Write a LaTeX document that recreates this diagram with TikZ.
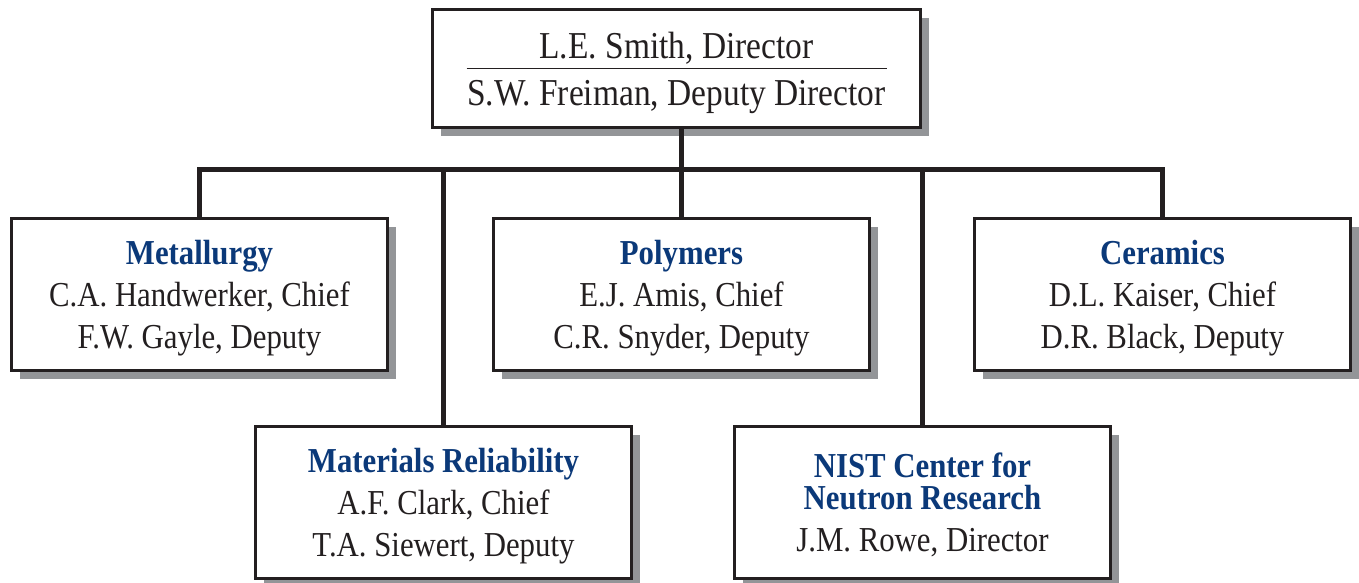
\documentclass[tikz,border=0pt]{standalone}
\usepackage{fontspec}
\setmainfont{Liberation Serif}[FakeStretch=0.88]
\usepackage{xcolor}
\usepackage{tikz}
\usetikzlibrary{shadows}

\definecolor{divblue}{HTML}{0B3979}
\definecolor{shadowgray}{HTML}{939598}
\definecolor{inkblack}{HTML}{231F20}

\tikzset{
  unitbox/.style={draw=inkblack, line width=2.5pt, fill=white, text=inkblack,
    minimum width=376pt, minimum height=152pt, inner sep=0pt, align=center,
    text depth=0pt, font=\fontsize{35}{42}\selectfont,
    drop shadow={shadow xshift=8pt, shadow yshift=-8pt, fill=shadowgray, opacity=1}},
  link/.style={draw=inkblack, line width=5pt},
}
\newcommand{\divname}[1]{\textcolor{divblue}{\textbf{#1}}}

\begin{document}
\begin{tikzpicture}[x=1pt, y=-1pt]
\useasboundingbox (0,0) rectangle (1359,582);

% Office of the director
\node[unitbox, minimum width=488pt, minimum height=118pt,
  font=\fontsize{38}{47}\selectfont] (dir) at (676.5,68.5) {L.E. Smith, Director\\S.W. Freiman, Deputy Director};
\draw[inkblack, line width=1pt] ([xshift=-210pt]dir.center) -- ([xshift=210pt]dir.center);

% Upper row of divisions
\node[unitbox] (met) at (199.5,294.5) {\divname{Metallurgy}\\C.A. Handwerker, Chief\\F.W. Gayle, Deputy};
\node[unitbox] (poly) at (681.5,294.5) {\divname{Polymers}\\E.J. Amis, Chief\\C.R. Snyder, Deputy};
\node[unitbox] (cer) at (1162.5,294.5) {\divname{Ceramics}\\D.L. Kaiser, Chief\\D.R. Black, Deputy};

% Lower row
\node[unitbox] (rel) at (443.5,502.5) {\divname{Materials Reliability}\\A.F. Clark, Chief\\T.A. Siewert, Deputy};
\node[unitbox] (ncnr) at (922.5,502.5) {\divname{NIST Center for}\\[-10pt]\divname{Neutron Research}\\J.M. Rowe, Director};

% Connectors
\coordinate (bus) at (0,169);
\draw[link] (poly.north |- dir.south) -- (poly.north);
\draw[link] (met.north) -- (met.north |- bus) -- (cer.north |- bus) -- (cer.north);
\draw[link] (rel.north) -- (rel.north |- bus);
\draw[link] (ncnr.north) -- (ncnr.north |- bus);
\end{tikzpicture}
\end{document}
